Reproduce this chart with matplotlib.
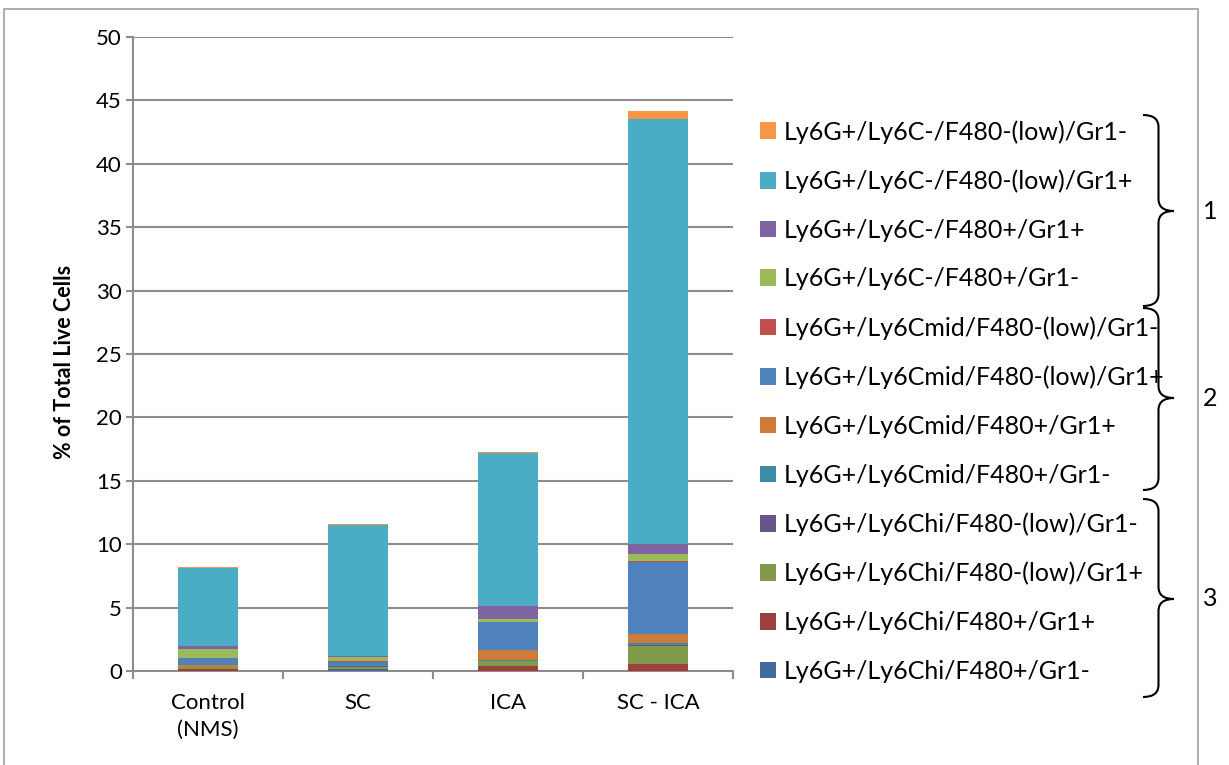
import numpy as np
import matplotlib.pyplot as plt
from matplotlib.path import Path
from matplotlib.patches import PathPatch

plt.rcParams['font.family'] = ['Lato', 'DejaVu Sans']

groups = ["Control\n(NMS)", "SC", "ICA", "SC - ICA"]

# stacked from the bottom of each bar upwards
series = [
    "Ly6G+/Ly6Chi/F480+/Gr1-",
    "Ly6G+/Ly6Chi/F480+/Gr1+",
    "Ly6G+/Ly6Chi/F480-(low)/Gr1+",
    "Ly6G+/Ly6Chi/F480-(low)/Gr1-",
    "Ly6G+/Ly6Cmid/F480+/Gr1-",
    "Ly6G+/Ly6Cmid/F480+/Gr1+",
    "Ly6G+/Ly6Cmid/F480-(low)/Gr1+",
    "Ly6G+/Ly6Cmid/F480-(low)/Gr1-",
    "Ly6G+/Ly6C-/F480+/Gr1-",
    "Ly6G+/Ly6C-/F480+/Gr1+",
    "Ly6G+/Ly6C-/F480-(low)/Gr1+",
    "Ly6G+/Ly6C-/F480-(low)/Gr1-",
]
colors = ["#426A9E", "#9E413E", "#7F9A48", "#69548A", "#3A8DA4", "#CC7B38",
          "#4F81BD", "#C0504D", "#9BBB59", "#8064A2", "#4BACC6", "#F79646"]

# % of total live cells, one row per series, columns follow `groups`
values = np.array([
    [0.03, 0.15, 0.02, 0.02],
    [0.10, 0.03, 0.34, 0.53],
    [0.16, 0.13, 0.40, 1.45],
    [0.02, 0.10, 0.02, 0.05],
    [0.02, 0.05, 0.05, 0.18],
    [0.13, 0.05, 0.79, 0.68],
    [0.53, 0.21, 2.21, 5.70],
    [0.02, 0.05, 0.02, 0.05],
    [0.74, 0.32, 0.24, 0.60],
    [0.21, 0.10, 1.05, 0.73],
    [6.18, 10.30, 12.07, 33.57],
    [0.08, 0.10, 0.05, 0.58],
])

group_labels = ["1", "2", "3"]

W, H = 1229, 765
fig = plt.figure(figsize=(W / 100, H / 100), dpi=100)
ax = fig.add_axes([133 / W, 1 - 671 / H, 600 / W, 634 / H])

x = np.arange(len(groups))
bottom = np.zeros(len(groups))
handles = []
for name, col, row in zip(series, colors, values):
    h = ax.bar(x, row, 0.4, bottom=bottom, color=col, label=name, zorder=3)
    handles.append(h)
    bottom += row

grid_col = "#8C8C8C"
ax.set_xlim(-0.5, 3.5)
ax.set_ylim(0, 50)
ax.set_yticks(np.arange(0, 51, 5))
ax.yaxis.grid(True, color=grid_col, linewidth=1.5, zorder=0)
for s in ["top", "right"]:
    ax.spines[s].set_visible(False)
for s in ["left", "bottom"]:
    ax.spines[s].set_color(grid_col)
    ax.spines[s].set_linewidth(1.5)
ax.tick_params(axis="y", length=5, width=1.5, color=grid_col, labelsize=16, pad=3)
ax.set_xticks(np.arange(-0.5, 4, 1))
ax.set_xticklabels([])
ax.set_xticks(x, minor=True)
ax.set_xticklabels(groups, minor=True, fontsize=16, linespacing=1.4)
ax.tick_params(axis="x", which="major", length=6, width=1.5, color=grid_col)
ax.tick_params(axis="x", which="minor", length=0, pad=16)
ax.set_ylabel("% of Total Live Cells", fontsize=15.5, fontweight="bold")
ax.yaxis.set_label_coords(-0.097, 0.487)

fig.legend(handles[::-1], series[::-1], loc="upper left",
           bbox_to_anchor=(760 / W, 1 - 120 / H), frameon=False,
           fontsize=18, handlelength=0.65, handleheight=0.65, handletextpad=0.3,
           labelspacing=1.03, borderaxespad=0, borderpad=0)

# overlay in pixel coordinates for the braces and outer frame
ov = fig.add_axes([0, 0, 1, 1], facecolor="none")
ov.set_xlim(0, W)
ov.set_ylim(H, 0)
ov.axis("off")


def brace(x0, x1, top, tip, bot):
    xs = (x0 + x1) / 2
    verts = [(x0, top),
             (xs, top), (xs, top + 12),
             (xs, tip - 12),
             (xs, tip), (x1, tip),
             (xs, tip), (xs, tip + 12),
             (xs, bot - 12),
             (xs, bot), (x0, bot)]
    codes = [Path.MOVETO, Path.CURVE3, Path.CURVE3, Path.LINETO,
             Path.CURVE3, Path.CURVE3, Path.CURVE3, Path.CURVE3,
             Path.LINETO, Path.CURVE3, Path.CURVE3]
    ov.add_patch(PathPatch(Path(verts, codes), fill=False, lw=1.5, color="black"))


spans = [(115, 211, 306), (308, 398, 490), (499, 599, 697)]
for lab, (t, m, b) in zip(group_labels, spans):
    brace(1143, 1174, t, m, b)
    ov.text(1210, m, lab, fontsize=18, ha="center", va="center")

ov.plot([4, 4, 1198, 1198], [H, 9, 9, H], color="#A0A0A0", lw=1.2)

fig.savefig("out.png", dpi=100)
